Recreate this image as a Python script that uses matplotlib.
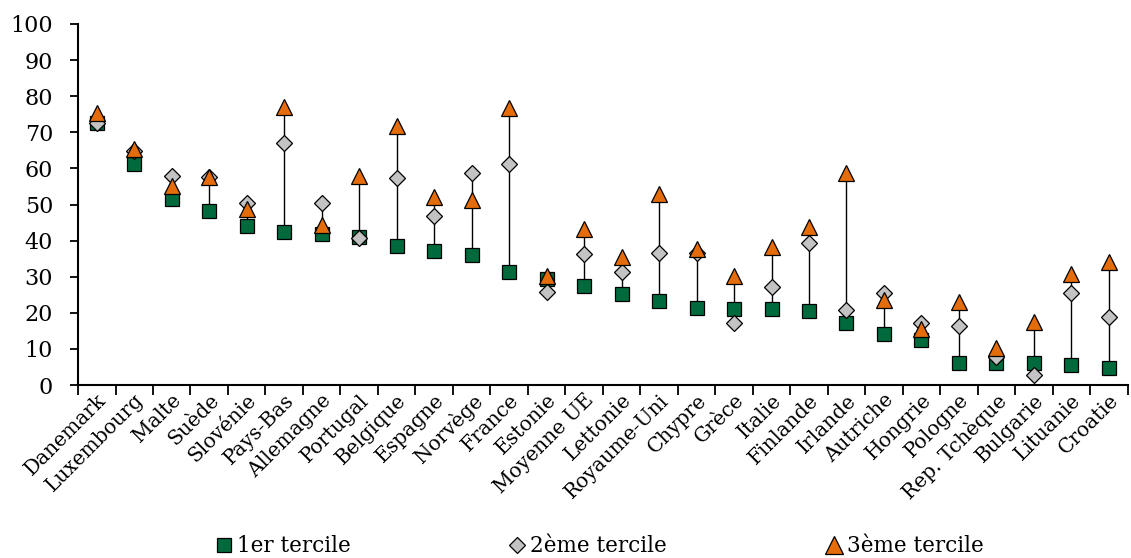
import numpy as np
import matplotlib
matplotlib.use("Agg")
import matplotlib.pyplot as plt
from matplotlib.lines import Line2D

plt.rcParams['font.family'] = ['DejaVu Serif']

# ─── Données ───────────────────────────────────────────────────────────────────

pays = ['Danemark', 'Luxembourg', 'Malte', 'Suède', 'Slovénie', 'Pays-Bas',
        'Allemagne', 'Portugal', 'Belgique', 'Espagne', 'Norvège', 'France',
        'Estonie', 'Moyenne UE', 'Lettonie', 'Royaume-Uni', 'Chypre', 'Grèce',
        'Italie', 'Finlande', 'Irlande', 'Autriche', 'Hongrie', 'Pologne',
        'Rep. Tchèque', 'Bulgarie', 'Lituanie', 'Croatie']

tercile_1 = [72.5, 61.2, 51.6, 48.2, 44.0, 42.5, 41.8, 41.0, 38.4, 37.2, 35.9,
             31.4, 29.4, 27.5, 25.3, 23.4, 21.4, 21.0, 21.0, 20.6, 17.1, 14.1,
             12.4, 6.2, 6.1, 6.0, 5.5, 4.6]
tercile_2 = [72.7, 64.9, 57.9, 57.7, 50.5, 66.9, 50.3, 40.6, 57.4, 46.9, 58.6,
             61.2, 25.8, 36.3, 31.4, 36.6, 36.5, 17.1, 27.1, 39.4, 20.9, 25.4,
             17.1, 16.4, 7.8, 2.8, 25.4, 18.9]
tercile_3 = [75.4, 65.3, 55.2, 57.5, 48.8, 77.1, 44.3, 58.0, 71.8, 52.0, 51.2,
             76.6, 30.3, 43.2, 35.5, 52.8, 37.8, 30.3, 38.3, 43.9, 58.6, 23.5,
             15.5, 23.0, 10.3, 17.5, 30.7, 34.0]

labels = ['1er tercile', '2ème tercile', '3ème tercile']

VERT = '#006A3C'
GRIS = '#C3C3C3'
ORANGE = '#E46C0A'

# ─── Figure ────────────────────────────────────────────────────────────────────

fig = plt.figure(figsize=(11.31, 5.58), dpi=100)
ax = fig.add_axes([0.069, 0.31, 0.928, 0.647])

x = np.arange(len(pays))
t1 = np.array(tercile_1)
t2 = np.array(tercile_2)
t3 = np.array(tercile_3)
lo = np.minimum(np.minimum(t1, t2), t3)
hi = np.maximum(np.maximum(t1, t2), t3)

ax.vlines(x, lo, hi, color='black', lw=1.0, zorder=1)
ax.plot(x, t1, ls='none', marker='s', ms=9.6, mfc=VERT, mec='black', mew=0.9, zorder=2)
ax.plot(x, t2, ls='none', marker='D', ms=8.0, mfc=GRIS, mec='black', mew=0.9, zorder=3)
ax.plot(x, t3, ls='none', marker='^', ms=11.5, mfc=ORANGE, mec='black', mew=0.9, zorder=4)

ax.set_xlim(-0.5, len(pays) - 0.5)
ax.set_ylim(0, 100)
ax.set_yticks(np.arange(0, 101, 10))
ax.tick_params(axis='y', labelsize=16, length=6, width=1.3, direction='out', pad=12)

ax.set_xticks(np.arange(-0.5, len(pays), 1.0))
ax.set_xticklabels([])
ax.set_xticks(x, minor=True)
ax.set_xticklabels(pays, minor=True, rotation=45, ha='right', va='top',
                   rotation_mode='anchor', fontsize=14.5)
ax.tick_params(axis='x', which='major', length=7, width=1.3, direction='out')
ax.tick_params(axis='x', which='minor', length=0, pad=4)

for s in ['top', 'right']:
    ax.spines[s].set_visible(False)
for s in ['left', 'bottom']:
    ax.spines[s].set_linewidth(1.5)

# ─── Légende (trois entrées placées comme dans l'original) ─────────────────────

handles = [
    Line2D([], [], ls='none', marker='s', ms=10, mfc=VERT, mec='black', mew=0.9),
    Line2D([], [], ls='none', marker='D', ms=8.5, mfc=GRIS, mec='black', mew=0.9),
    Line2D([], [], ls='none', marker='^', ms=12.5, mfc=ORANGE, mec='black', mew=0.9),
]
for h, lab, xpos in zip(handles, labels, [0.1888, 0.4478, 0.7281]):
    leg = fig.legend([h], [lab], loc='center left', bbox_to_anchor=(xpos, 0.021),
                     frameon=False, fontsize=15.5, handletextpad=0.1,
                     handlelength=1.0, borderpad=0, borderaxespad=0)

fig.savefig('out.png', dpi=100)
